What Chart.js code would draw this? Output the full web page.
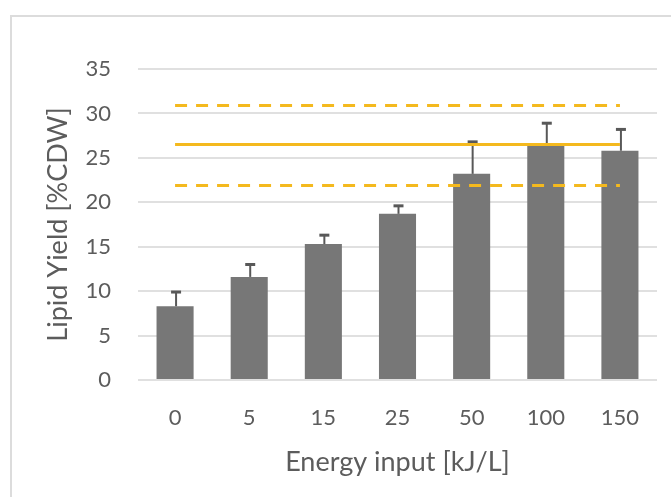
<!DOCTYPE html>
<html>
<head>
<meta charset="utf-8">
<script src="https://cdn.jsdelivr.net/npm/chart.js@4.4.1/dist/chart.umd.min.js"></script>
<style>
  html, body { margin: 0; padding: 0; background: #fff; }
  #wrap { width: 671px; height: 497px; }
</style>
</head>
<body>
<div id="wrap"><canvas id="chart1"></canvas></div>
<script>
// energy input levels and measured lipid yields
const energyLabels = ["0", "5", "15", "25", "50", "100", "150"];
const lipidYield = [8.3, 11.6, 15.3, 18.7, 23.2, 26.4, 25.8];
const yieldError = [1.6, 1.4, 1.0, 0.9, 3.6, 2.5, 2.4];

// reference band: mean and +/- limits
const refMean = [26.5, 26.5, 26.5, 26.5, 26.5, 26.5, 26.5];
const refUpper = [30.9, 30.9, 30.9, 30.9, 30.9, 30.9, 30.9];
const refLower = [21.9, 21.9, 21.9, 21.9, 21.9, 21.9, 21.9];

const yTicks = [0, 5, 10, 15, 20, 25, 30, 35];

const FONT = "Lato, 'Open Sans', sans-serif";
const TEXT = '#5c5c5c';
const GOLD = '#f4b91e';

//light frame round the chart
const framePlugin = {
  id: 'frame',
  beforeDraw(chart) {
    const ctx = chart.ctx;
    ctx.save();
    ctx.fillStyle = '#fff';
    ctx.fillRect(0, 0, chart.width, chart.height);
    ctx.strokeStyle = '#dcdcdc';
    ctx.lineWidth = 2;
    ctx.beginPath();
    ctx.moveTo(chart.width, 16);
    ctx.lineTo(11, 16);
    ctx.lineTo(11, chart.height);
    ctx.stroke();
    ctx.restore();
  }
};

//positive error bars on top of the bars
const errorBarPlugin = {
  id: 'errorBars',
  afterDatasetDraw(chart, args) {
    if (args.index !== 0) return;
    const ctx = chart.ctx;
    const y = chart.scales.y;
    const meta = chart.getDatasetMeta(0);
    ctx.save();
    ctx.strokeStyle = '#585858';
    meta.data.forEach((bar, i) => {
      const top = y.getPixelForValue(lipidYield[i] + yieldError[i]);
      const x = bar.x + 1;
      ctx.lineWidth = 2;
      ctx.beginPath();
      ctx.moveTo(x, bar.y);
      ctx.lineTo(x, top);
      ctx.stroke();
      ctx.lineWidth = 3;
      ctx.beginPath();
      ctx.moveTo(x - 5, top);
      ctx.lineTo(x + 5, top);
      ctx.stroke();
    });
    ctx.restore();
  }
};

function refLine(data, dash) {
  return {
    type: 'line',
    data: data,
    borderColor: GOLD,
    borderWidth: 3,
    borderDash: dash,
    pointRadius: 0,
    fill: false,
    order: 0
  };
}

const chart1 = new Chart(document.getElementById('chart1'), {
  type: 'bar',
  data: {
    labels: energyLabels,
    datasets: [
      {
        data: lipidYield,
        backgroundColor: '#777777',
        barPercentage: 0.5,
        categoryPercentage: 1,
        order: 1
      },
      refLine(refMean, []),
      refLine(refUpper, [12, 9]),
      refLine(refLower, [12, 9])
    ]
  },
  options: {
    responsive: true,
    maintainAspectRatio: false,
    animation: false,
    layout: { padding: { top: 69, right: 14, left: 0, bottom: 0 } },
    plugins: { legend: { display: false }, tooltip: { enabled: false } },
    scales: {
      x: {
        offset: true,
        grid: { display: false },
        border: { display: false },
        ticks: { color: TEXT, font: { family: FONT, size: 22 }, padding: 17, maxRotation: 0 },
        title: {
          display: true,
          text: 'Energy input [kJ/L]',
          color: TEXT,
          font: { family: FONT, size: 27 },
          padding: { top: 0, bottom: 19 }
        },
        afterFit(scale) { scale.height = 117; }
      },
      y: {
        min: 0,
        max: 35,
        afterBuildTicks(scale) { scale.ticks = yTicks.map(v => ({ value: v })); },
        grid: { color: '#e0e0e0', lineWidth: 2, drawTicks: false },
        border: { display: false },
        ticks: { color: TEXT, font: { family: FONT, size: 22 }, padding: 27 },
        title: {
          display: true,
          text: 'Lipid Yield [%CDW]',
          color: TEXT,
          font: { family: FONT, size: 27 },
          padding: { top: 42, bottom: 0 }
        },
        afterFit(scale) { scale.width = 138; }
      }
    }
  },
  plugins: [framePlugin, errorBarPlugin]
});
</script>
</body>
</html>
